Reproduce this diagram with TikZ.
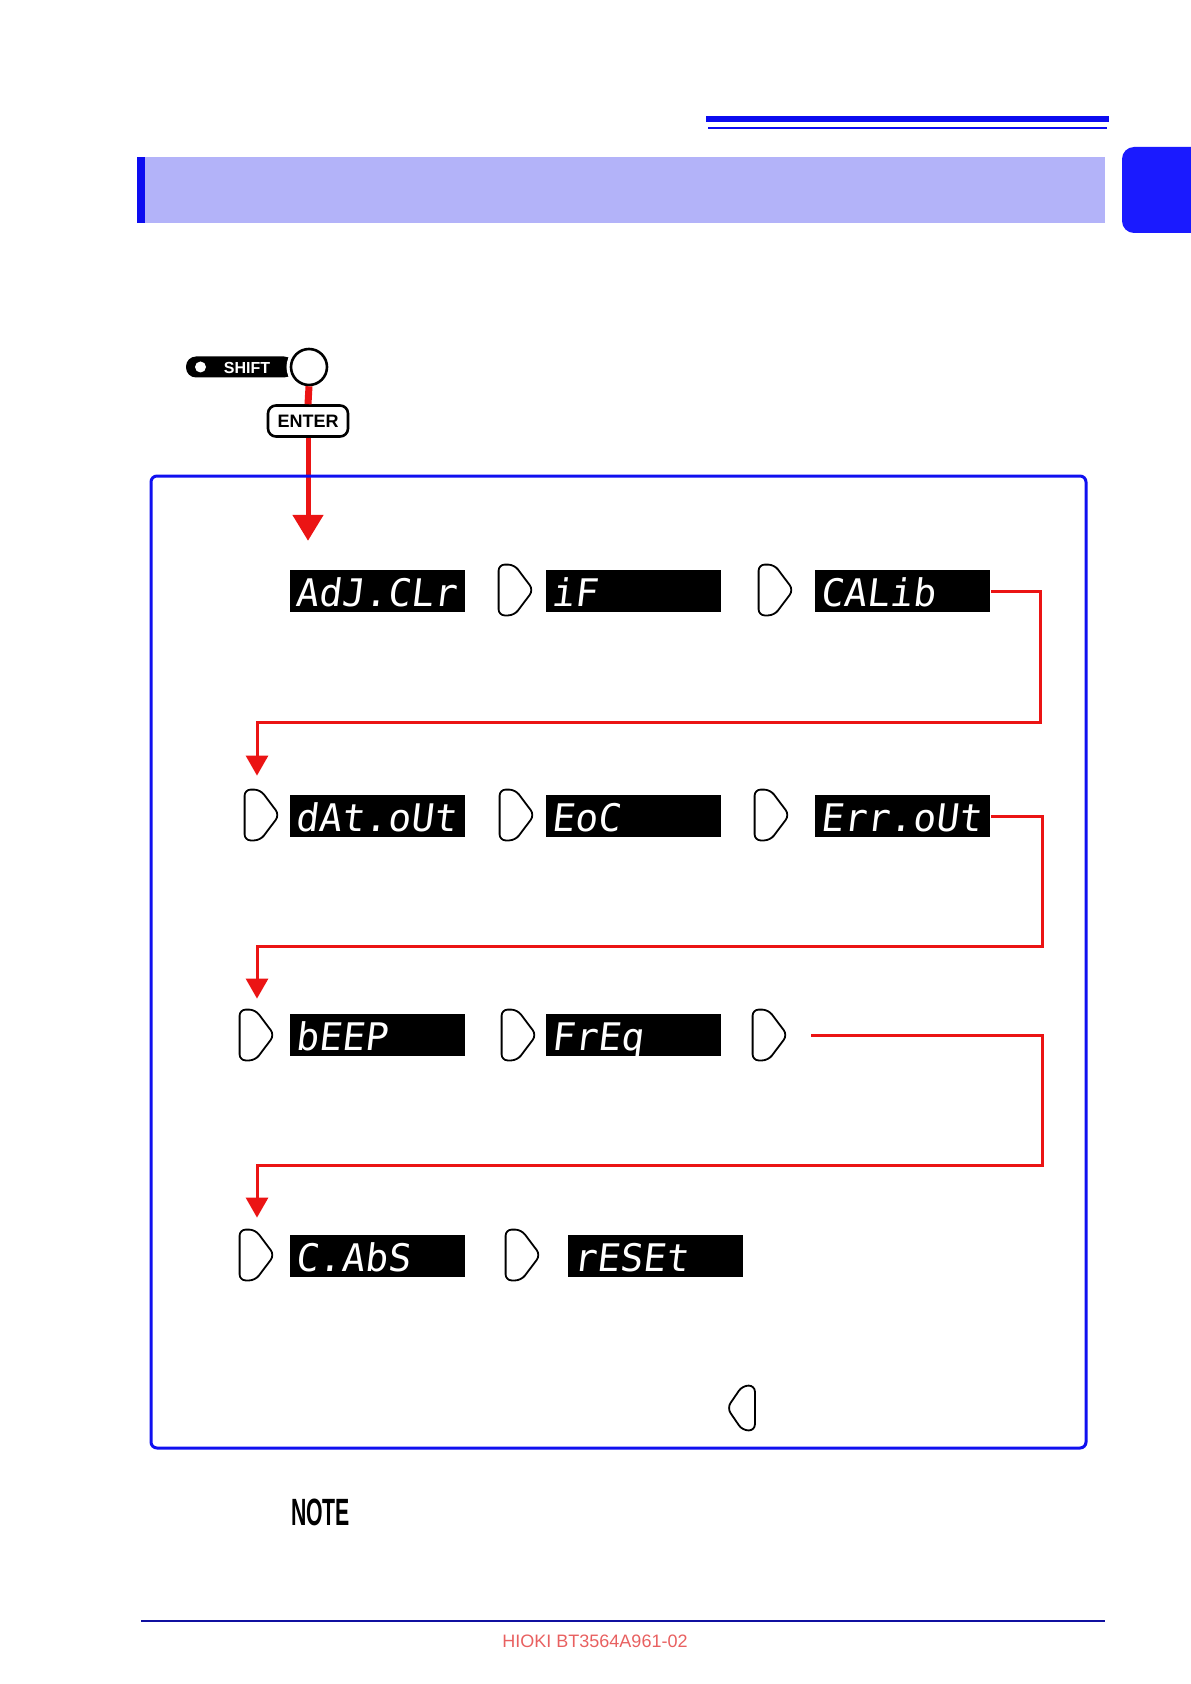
\documentclass[tikz,border=0pt]{standalone}
\usepackage{fontspec}
\setmainfont{Liberation Sans}
\newfontfamily\segfont[FakeSlant=0.12]{DejaVu Sans Mono}
\newfontfamily\notefont[FakeStretch=0.56]{Liberation Sans}
\usetikzlibrary{arrows.meta,positioning,calc}

\definecolor{hdrblue}{RGB}{12,12,240}
\definecolor{bandlav}{RGB}{179,179,249}
\definecolor{tabblue}{RGB}{26,26,255}
\definecolor{boxblue}{RGB}{16,16,240}
\definecolor{footblue}{RGB}{16,16,160}
\definecolor{footred}{RGB}{232,96,96}
\definecolor{flowred}{RGB}{235,20,20}

\begin{document}
\begin{tikzpicture}[
  x=0.5pt,y=-0.5pt,
  lcd/.style={fill=black,text=white,anchor=west,inner sep=0pt,
    minimum width=87.5pt,minimum height=21pt,text width=82pt,align=left,
    text height=16pt,text depth=1pt,
    font=\segfont\fontsize{19}{19}\selectfont},
  keyR/.style={minimum width=17pt,minimum height=25pt,inner sep=0pt},
  keyline/.style={draw=black,line width=0.9pt,rounded corners=3pt},
  flow/.style={draw=flowred,line width=1.5pt,-{Triangle[length=10pt,width=11pt]}},
  bigflow/.style={draw=flowred,line width=2.5pt,-{Triangle[length=13pt,width=15pt]}}
]
\useasboundingbox (0,0) rectangle (1190,1684);

% page header
\fill[hdrblue] (706,116) rectangle (1109,122);
\fill[hdrblue] (708,127) rectangle (1107,129);
\fill[bandlav] (137,157) rectangle (1105,223);
\fill[hdrblue] (137,157) rectangle (145,223);
\fill[tabblue,rounded corners=6pt] (1122,147) rectangle (1210,233);

% SHIFT + ENTER keys
\node[fill=black,rounded corners=5pt,minimum width=54pt,minimum height=10.5pt,inner sep=0pt] (pill) at (240,367) {};
\node[circle,fill=white,minimum size=5.5pt,inner sep=0pt,right=4.5pt of pill.west] (dot) {};
\node[text=white,font=\bfseries\fontsize{8}{8}\selectfont] (shiftlbl) at (247,368) {SHIFT};
\node[circle,draw,line width=1.3pt,fill=white,minimum size=18pt,inner sep=0pt,
  preaction={draw=white,line width=4.5pt}] (shiftkey) at (309,367) {};
\node[draw,line width=1.3pt,rounded corners=4pt,fill=white,minimum width=40pt,minimum height=15.5pt,
  inner sep=0pt,font=\bfseries\fontsize{9}{9}\selectfont] (enter) at (308,421) {ENTER};
\draw[flowred,line width=3.5pt] (shiftkey.south) -- (enter.north);
\coordinate[below=51.5pt of enter] (t1);
\draw[bigflow] (enter.south) -- (t1);

% frame
\draw[boxblue,line width=1.5pt,rounded corners=3pt] (151,476) rectangle (1086,1448);

% displays
\node[lcd] (adj)   at (290,591)  {AdJ.CLr};
\node[lcd] (if)    at (546,591)  {iF};
\node[lcd] (cal)   at (815,591)  {CALib};
\node[lcd] (dat)   at (290,816)  {dAt.oUt};
\node[lcd] (eoc)   at (546,816)  {EoC};
\node[lcd] (err)   at (815,816)  {Err.oUt};
\node[lcd] (beep)  at (290,1035) {bEEP};
\node[lcd] (freq)  at (546,1035) {FrEq};
\node[lcd] (cabs)  at (290,1256) {C.AbS};
\node[lcd] (reset) at (568,1256) {rESEt};

% keys
\node[keyR] (k11) at (516,590) {};
\node[keyR] (k12) at (776,590) {};
\node[keyR] (k21) at (262,815) {};
\node[keyR] (k22) at (517,815) {};
\node[keyR] (k23) at (772,815) {};
\node[keyR] (k31) at (257,1035) {};
\node[keyR] (k32) at (519,1035) {};
\node[keyR] (k33) at (770,1035) {};
\node[keyR] (k41) at (257,1255) {};
\node[keyR] (k42) at (523,1255) {};
\node[minimum width=13.5pt,minimum height=22pt,inner sep=0pt] (kback) at (741,1408) {};

\foreach \k in {k11,k12,k21,k22,k23,k31,k32,k33,k41,k42}
  \draw[keyline] (\k.west) -- (\k.north west) -- ($(\k.north west)!.45!(\k.north east)$)
    -- (\k.east) -- ($(\k.south west)!.45!(\k.south east)$) -- (\k.south west) -- cycle;
\draw[keyline] (kback.east) -- (kback.north east) -- ($(kback.north east)!.45!(kback.north west)$)
  -- (kback.west) -- ($(kback.south east)!.45!(kback.south west)$) -- (kback.south east) -- cycle;

% row connectors
\coordinate[above=7pt of k21,xshift=-2.5pt] (t2);
\coordinate[above=5.5pt of k31] (t3);
\coordinate[above=6pt of k41] (t4);
\draw[flow] (cal.east) -- ++(50,0) -- ++(0,131) -| (t2);
\draw[flow] (err.east) -- ++(52,0) -- ++(0,130) -| (t3);
\draw[flow] (k33.east) ++(24,0) -- ++(231,0) -- ++(0,130) -| (t4);

% note and footer
\node[anchor=west,font=\notefont\bfseries\fontsize{19}{19}\selectfont] (note) at (284,1512) {NOTE};
\draw[footblue,line width=1pt] (141,1621) -- (1105,1621);
\node[text=footred,font=\fontsize{9}{9}\selectfont] (foot) at (595,1641) {HIOKI BT3564A961-02};
\end{tikzpicture}
\end{document}
